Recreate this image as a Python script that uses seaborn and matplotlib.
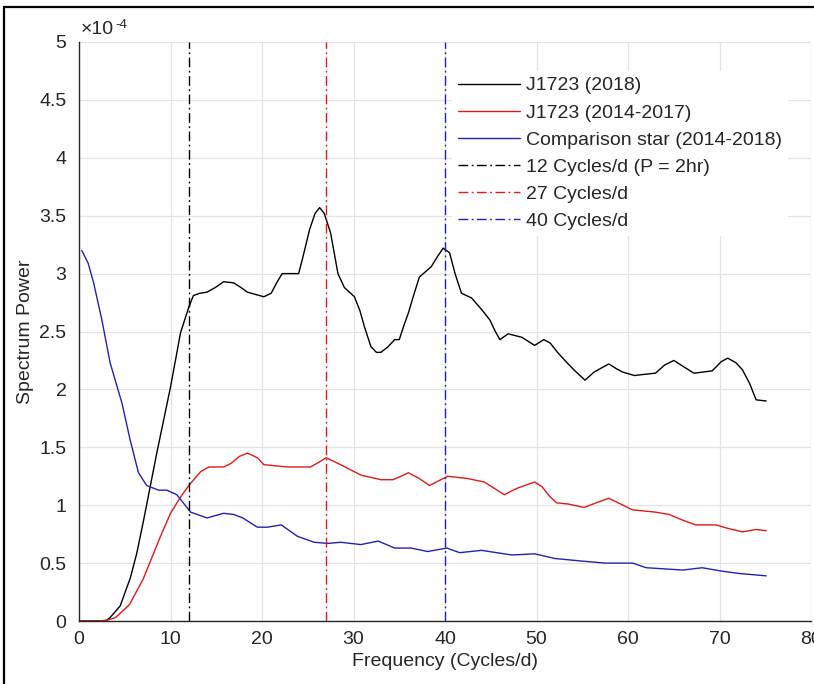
import matplotlib
matplotlib.use("Agg")
import matplotlib.pyplot as plt
from matplotlib.lines import Line2D
from matplotlib.ticker import FuncFormatter
import numpy as np
import pandas as pd
import seaborn as sns

# ---------------- data (power in units of 1e-4) ----------------
SCALE = 1e-4

freq_j2018 = [0, 1, 2, 3, 3.4, 4.5, 5.6, 6.3, 7.06, 8.5, 10, 11.1, 12, 12.5, 13.2, 14,
              14.9, 15.8, 16.9, 17.7, 18.4, 19.3, 20.2, 21, 21.6, 22.2, 23.2, 24, 24.4,
              25.2, 25.8, 26.3, 26.8, 27.5, 28.3, 29, 30.1, 30.7, 31.2, 31.9, 32.5, 33,
              33.8, 34.5, 35, 35.5, 36, 36.6, 37.2, 38.5, 39.2, 39.8, 40.5, 41.1, 41.8,
              42.9, 44, 44.9, 45.5, 46, 46.9, 48.4, 49.8, 50.8, 51.5, 52.3, 53.1, 54.2,
              55.3, 56.3, 57.9, 58.7, 59.4, 60.7, 61.8, 63, 64, 65, 66, 67.2, 69.2,
              70.2, 70.9, 71.8, 72.5, 73.3, 74, 75.1]
power_j2018 = [0, 0, 0, 0.005, 0.03, 0.13, 0.37, 0.58, 0.87, 1.45, 2.02, 2.49, 2.71,
               2.81, 2.83, 2.84, 2.88, 2.93, 2.92, 2.88, 2.84, 2.82, 2.80, 2.83, 2.92,
               3.00, 3.00, 3.00, 3.12, 3.38, 3.52, 3.57, 3.52, 3.35, 3.00, 2.88, 2.80,
               2.68, 2.54, 2.37, 2.32, 2.32, 2.37, 2.43, 2.43, 2.55, 2.66, 2.82, 2.97,
               3.06, 3.15, 3.22, 3.18, 3.00, 2.83, 2.79, 2.69, 2.60, 2.50, 2.43, 2.48,
               2.45, 2.38, 2.43, 2.40, 2.32, 2.25, 2.16, 2.08, 2.15, 2.22, 2.18, 2.15,
               2.12, 2.13, 2.14, 2.21, 2.25, 2.20, 2.14, 2.16, 2.24, 2.27, 2.23, 2.17,
               2.05, 1.91, 1.90]

freq_j1417 = [0, 1, 2, 3, 4, 5.5, 7, 8.9, 10, 11.1, 12, 13.3, 14.2, 15.8, 16.6, 17.5,
              18.4, 19.5, 20.2, 22.8, 25.3, 26.2, 27, 28.6, 30.8, 33, 34.3, 35.2, 36,
              37.2, 38.3, 39.3, 40.3, 42.5, 44.3, 45.5, 46.5, 47.2, 48, 49.8, 50.6,
              51.4, 52.2, 53.5, 55.2, 56.5, 57.9, 59.2, 60.5, 63, 64.5, 66, 67.4, 69.6,
              70.9, 72.5, 74, 75.1]
power_j1417 = [0, 0, 0, 0.005, 0.03, 0.14, 0.36, 0.73, 0.93, 1.07, 1.17, 1.29, 1.33,
               1.33, 1.36, 1.42, 1.45, 1.41, 1.35, 1.33, 1.33, 1.37, 1.41, 1.35, 1.26,
               1.22, 1.22, 1.25, 1.28, 1.23, 1.17, 1.21, 1.25, 1.23, 1.20, 1.14, 1.09,
               1.12, 1.15, 1.20, 1.16, 1.08, 1.02, 1.01, 0.98, 1.02, 1.06, 1.01, 0.96,
               0.94, 0.92, 0.87, 0.83, 0.83, 0.80, 0.77, 0.79, 0.78]

freq_comp = [0.3, 1.0, 1.6, 2.5, 3.4, 4.7, 5.6, 6.5, 7.4, 8.7, 9.6, 10.7, 11.6, 12.2,
             14, 15.8, 16.9, 17.9, 19.5, 20.6, 22.1, 23.9, 25.7, 27.2, 28.6, 30.8,
             32.7, 34.5, 36.3, 38.1, 40.2, 41.6, 44, 47.3, 49.8, 52, 54.6, 57.5, 60.5,
             62, 66, 68.1, 70.3, 72.2, 75.1]
power_comp = [3.20, 3.09, 2.92, 2.60, 2.23, 1.88, 1.56, 1.28, 1.17, 1.13, 1.13, 1.09,
              1.00, 0.94, 0.89, 0.93, 0.92, 0.89, 0.81, 0.81, 0.83, 0.73, 0.68, 0.67,
              0.68, 0.66, 0.69, 0.63, 0.63, 0.60, 0.63, 0.59, 0.61, 0.57, 0.58, 0.54,
              0.52, 0.50, 0.50, 0.46, 0.44, 0.46, 0.43, 0.41, 0.39]

series_labels = ["J1723 (2018)", "J1723 (2014-2017)", "Comparison star (2014-2018)"]
vline_freqs = [12, 27, 40]
vline_labels = ["12 Cycles/d (P = 2hr)", "27 Cycles/d", "40 Cycles/d"]
x_ticks = [0, 10, 20, 30, 40, 50, 60, 70, 80]
y_ticks = [0, 0.5, 1, 1.5, 2, 2.5, 3, 3.5, 4, 4.5, 5]

# ---------------- style ----------------
sns.set_theme(style="white")
plt.rcParams["font.family"] = ["Liberation Sans", "DejaVu Sans"]
AX_COL = "#262626"
colors = ["#000000", "#d81c1c", "#2323b0"]

fig = plt.figure(figsize=(8.14, 6.84), dpi=100)
ax = fig.add_axes([79 / 814, 1 - 621 / 684, (811 - 79) / 814, (621 - 42) / 684])

dfs = [
    pd.DataFrame({"f": freq_j2018, "p": np.array(power_j2018) * SCALE}),
    pd.DataFrame({"f": freq_j1417, "p": np.array(power_j1417) * SCALE}),
    pd.DataFrame({"f": freq_comp, "p": np.array(power_comp) * SCALE}),
]
for df, lab, c in zip(dfs, series_labels, colors):
    sns.lineplot(data=df, x="f", y="p", ax=ax, color=c, lw=1.0, label=lab,
                 estimator=None, sort=False)

dash = (0, (7, 2.5, 1.3, 2.5))
for fx, lab, c in zip(vline_freqs, vline_labels, colors):
    ax.axvline(fx, color=c, lw=1.0, linestyle=dash, label=lab)

ax.set_xlim(0, 80)
ax.set_ylim(0, 5 * SCALE)
ax.set_xticks(x_ticks)
ax.set_yticks([v * SCALE for v in y_ticks])
ax.yaxis.set_major_formatter(FuncFormatter(lambda v, p: f"{v / SCALE:g}"))
ax.grid(True, color="#e3e3e3", lw=0.9)
ax.set_axisbelow(True)

for s in ["top", "right"]:
    ax.spines[s].set_visible(False)
for s in ["left", "bottom"]:
    ax.spines[s].set_color(AX_COL)
    ax.spines[s].set_linewidth(1.0)

ax.tick_params(axis="both", direction="in", length=5, width=1.0, color=AX_COL,
               labelcolor=AX_COL, labelsize=14)
ax.tick_params(axis="y", pad=9)
ax.tick_params(axis="x", pad=7)

ax.set_xlabel("Frequency (Cycles/d)", fontsize=14, color=AX_COL, labelpad=4)
ax.set_ylabel("Spectrum Power", fontsize=14, color=AX_COL, labelpad=4)

leg = ax.legend(loc="upper left", bbox_to_anchor=((452 - 79) / 732, 1 - (71 - 42) / 579),
                fontsize=14, frameon=True, framealpha=1, facecolor="white",
                edgecolor="none", handlelength=3.2, handletextpad=0.3,
                labelspacing=0.49, borderpad=0.3, borderaxespad=0, fancybox=False)
for t in leg.get_texts():
    t.set_color(AX_COL)

# MATLAB-style exponent label
fig.text(81 / 814, 1 - 34 / 684, "\u00d710", fontsize=14, color=AX_COL,
         ha="left", va="baseline")
fig.text(115 / 814, 1 - 28 / 684, "-4", fontsize=9.5, color=AX_COL,
         ha="left", va="baseline")

# outer frame (top and left edges of the screenshot border)
fig.add_artist(Line2D([4 / 814, 1.0], [1 - 7 / 684, 1 - 7 / 684], color="black",
                      lw=1.6, transform=fig.transFigure))
fig.add_artist(Line2D([4 / 814, 4 / 814], [0, 1 - 7 / 684], color="black",
                      lw=1.6, transform=fig.transFigure))

fig.savefig("out.png", dpi=100)
